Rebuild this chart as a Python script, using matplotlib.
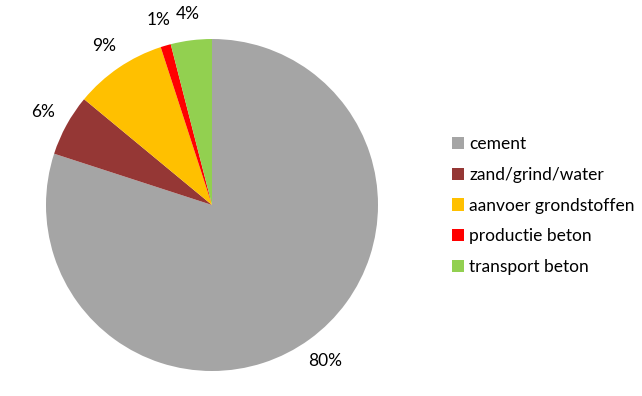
import matplotlib
matplotlib.use("Agg")
import matplotlib.pyplot as plt
from matplotlib.patches import Patch

categories = ["cement", "zand/grind/water", "aanvoer grondstoffen", "productie beton", "transport beton"]
shares = [80, 6, 9, 1, 4]
colors = ["#A5A5A5", "#953735", "#FFC000", "#FF0000", "#92D050"]

plt.rcParams["font.family"] = ["Lato", "DejaVu Sans"]

W, H = 642, 396
fig = plt.figure(figsize=(W / 100, H / 100), dpi=100)
cx, cy, r = 212, 205, 166
ax = fig.add_axes([(cx - r) / W, (H - cy - r) / H, 2 * r / W, 2 * r / H])

wedges, texts, autotexts = ax.pie(
    shares,
    colors=colors,
    startangle=90,
    counterclock=False,
    autopct="%1.0f%%",
    pctdistance=1.16,
    wedgeprops=dict(linewidth=0),
    textprops=dict(fontsize=12.5, color="black"),
)
ax.set_xlim(-1, 1)
ax.set_ylim(-1, 1)
ax.set_aspect("equal")

handles = [Patch(facecolor=c, edgecolor="none") for c in colors]
fig.legend(
    handles,
    categories,
    loc="upper left",
    bbox_to_anchor=(452 / W, 1 - 136 / H),
    frameon=False,
    fontsize=12.5,
    handlelength=0.7,
    handleheight=0.7,
    handletextpad=0.3,
    labelspacing=0.85,
    borderaxespad=0,
    borderpad=0,
)

fig.savefig("out.png", dpi=100)
